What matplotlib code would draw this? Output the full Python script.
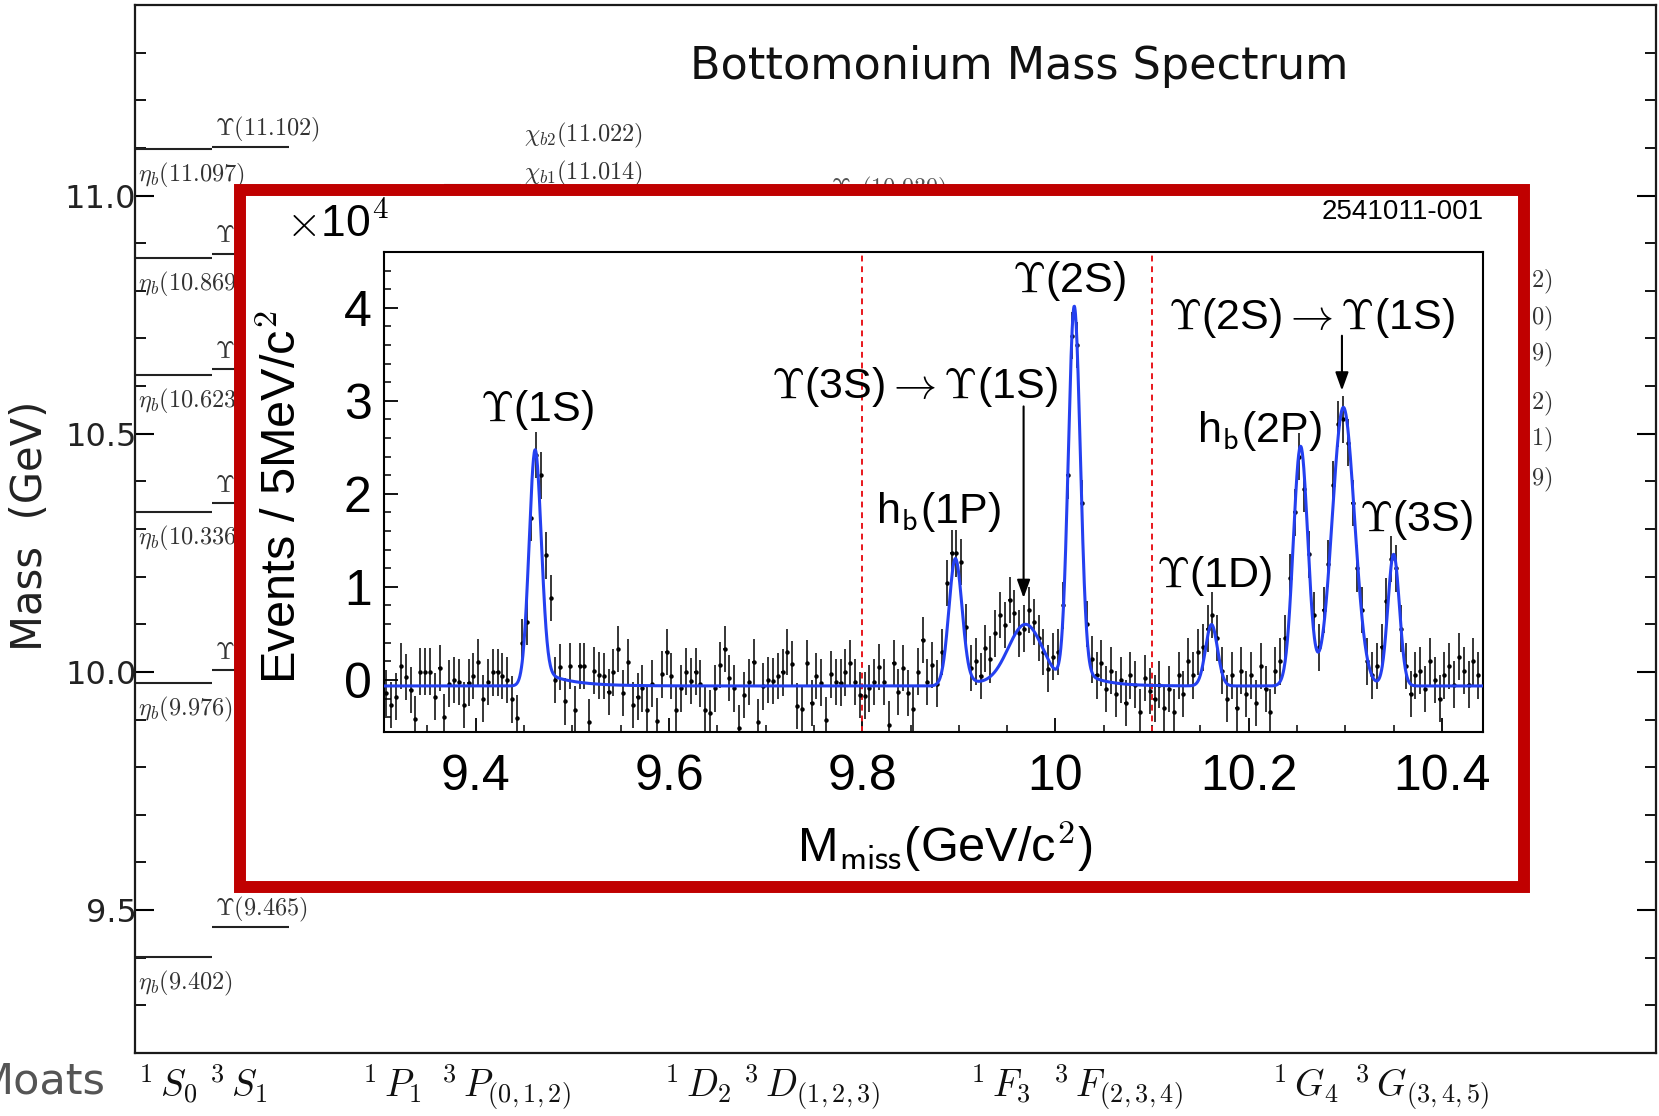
import numpy as np
import matplotlib
matplotlib.use("Agg")
import matplotlib.pyplot as plt
from matplotlib.patches import Rectangle

plt.rcParams["mathtext.fontset"] = "cm"
plt.rcParams["font.family"] = ["Liberation Sans", "DejaVu Sans"]
UI_FONT = ["DejaVu Sans"]

# ---------------- bottomonium level scheme (GeV) ----------------
etab_masses = [9.402, 9.976, 10.336, 10.623, 10.869, 11.097]
upsilon_masses = [9.465, 10.003, 10.354, 10.635, 10.878, 11.102]
chib_names = [r"\chi_{b2}", r"\chi_{b1}"]
chib_masses = [11.022, 11.014]
d_wave_name = r"\Upsilon_1"
d_wave_mass = 10.939
wave_labels = [r"$^1\,S_0$", r"$^3\,S_1$", r"$^1\,P_1$", r"$^3\,P_{(0,1,2)}$",
               r"$^1\,D_2$", r"$^3\,D_{(1,2,3)}$", r"$^1\,F_3$", r"$^3\,F_{(2,3,4)}$",
               r"$^1\,G_4$", r"$^3\,G_{(3,4,5)}$"]
g_wave_label_ends = ["2)", "0)", "9)", "2)", "1)", "9)"]
g_wave_label_heights = [10.819, 10.742, 10.666, 10.563, 10.487, 10.403]

# ---------------- missing-mass spectrum (units of 1e4 events / 5 MeV) ----------------
bin_width = 0.005
first_bin_center = 9.3075
events = np.array([
    -0.14, -0.27, -0.18, 0.15, 0.03, -0.11, -0.42, 0.09, 0.09, 0.09, -0.18, 0.13, -0.40, -0.04,
    0.00, -0.02, -0.27, -0.03, 0.04, 0.19, -0.20, -0.02, 0.08, 0.08, 0.04, 0.00, -0.21, -0.41,
    0.40, 0.62, 1.74, 2.42, 2.20, 1.34, 0.88,
    0.00, 0.14, -0.23, 0.15, -0.32, 0.15, 0.15, -0.45, 0.10, 0.05, 0.04, -0.13, 0.08, 0.33,
    -0.14, 0.19, -0.27, -0.18, -0.09, -0.32, -0.04, -0.44, 0.06, 0.30, 0.04, -0.32, -0.09, 0.09,
    -0.01, 0.09, -0.04, -0.32, -0.36, -0.09, 0.16, 0.33, 0.02, -0.09, -0.52, -0.16, -0.02, 0.19,
    -0.45, -0.07, 0.00, -0.01,
    0.04, 0.08, 0.30, 0.17, -0.28, -0.31, 0.18, -0.25, 0.04, -0.03, -0.43, 0.06, -0.02, -0.03,
    0.08, 0.18, -0.02, -0.16, -0.17, -0.09, -0.02, 0.14, -0.02, -0.48, 0.18, -0.13, 0.13, -0.14,
    -0.31, 0.09,
    0.43, -0.02, 0.16, -0.04, 0.30,
    1.04, 1.36, 1.36, 1.27, 0.57, 0.13, 0.20, 0.04, 0.34, 0.22, 0.50, 0.70, 0.59, 0.86, 0.72,
    0.50, 0.55, 0.75, 0.62, 0.45, 0.30, 0.12, 0.25,
    0.30, 0.80, 2.20, 3.70, 3.60, 1.90, 0.60, 0.22,
    0.05, 0.18, -0.10, 0.10, -0.15, 0.00, -0.25, 0.05, -0.05, -0.35, 0.02, -0.12, -0.20, -0.05,
    -0.30, -0.10, -0.35, 0.05, -0.15, 0.20, 0.05, 0.30, 0.35, 0.55, 0.70, 0.45, 0.10, -0.20,
    0.05, -0.30, 0.10, -0.15, 0.05, -0.25, 0.15, -0.10, -0.35, 0.10, 0.20,
    0.45, 1.10, 1.80, 2.40, 2.05, 1.35, 0.70, 0.35, 0.75, 1.25, 2.10, 2.75, 2.80, 2.55, 1.90,
    1.20, 0.75, 0.20, 0.05, 0.15, 0.35, 0.85, 1.30, 1.20, 0.55, 0.15, -0.15, 0.05, 0.10, -0.10,
    0.20, 0.00, -0.20, 0.05, 0.15, -0.05, 0.25, 0.10, -0.05, 0.20, 0.05,
])
event_error = 0.25

# fit: flat baseline plus one line shape per signal
fit_baseline = -0.065
peak_mass = [9.4615, 9.8965, 9.969, 10.0195, 10.1615, 10.2537, 10.298, 10.350]
peak_height = [2.34, 1.27, 0.66, 3.85, 0.66, 2.575, 2.995, 1.415]
peak_sigma = [0.0063, 0.0068, 0.018, 0.0062, 0.0062, 0.0075, 0.0115, 0.0060]
tail_height = [0.20, 0.10, 0.0, 0.22, 0.0, 0.0, 0.0, 0.0]
tail_length = [0.028, 0.020, 1.0, 0.022, 1.0, 1.0, 1.0, 1.0]

mass_window = (9.305, 10.4425)
count_window = (-0.56, 4.60)

# ---------------- figure ----------------
W, H, DPI = 1659, 1116, 100
fig = plt.figure(figsize=(W / DPI, H / DPI), dpi=DPI)


def fx(px):
    return px / W


def fy(py):
    return 1.0 - py / H


# ---- background: level diagram ----
bg = fig.add_axes([fx(135), fy(1053), fx(1656) - fx(135), fy(5) - fy(1053)], zorder=0)
bg.set_xlim(0, 1)
bg.set_ylim(9.2, 11.4)
for sp in bg.spines.values():
    sp.set_linewidth(1.6)
    sp.set_color("#1a1a1a")
bg.set_xticks([])
bg.yaxis.set_ticks_position("both")
bg.set_yticks([9.5, 10.0, 10.5, 11.0])
bg.set_yticklabels(["9.5", "10.0", "10.5", "11.0"], fontfamily=UI_FONT, fontsize=23, color="#222222")
bg.set_yticks(np.arange(9.3, 11.35, 0.1), minor=True)
bg.tick_params(axis="y", which="major", direction="in", length=14, width=1.5, pad=-1)
bg.tick_params(axis="y", which="minor", direction="in", length=8, width=1.3)

col_w = 77 / 1521
col_x = [(p - 135) / 1521 for p in (135, 212, 365, 444, 667, 746, 973, 1056, 1275, 1357)]
level_color = "#222222"
label_color = "#333333"
lvl_fs = 17.5

for m in etab_masses:
    bg.plot([col_x[0], col_x[0] + col_w], [m, m], color=level_color, lw=1.5, solid_capstyle="butt")
    bg.text(col_x[0] + 0.002, m - 0.055, rf"$\eta_b({m:.3f})$", fontsize=lvl_fs, color=label_color,
            va="center", ha="left")
for m in upsilon_masses:
    bg.plot([col_x[1], col_x[1] + col_w], [m, m], color=level_color, lw=1.5, solid_capstyle="butt")
    bg.text(col_x[1] + 0.002, m + 0.036, rf"$\Upsilon({m:.3f})$", fontsize=lvl_fs, color=label_color,
            va="center", ha="left")
for name, m, ly in zip(chib_names, chib_masses, [11.126, 11.046]):
    bg.plot([col_x[3], col_x[3] + col_w], [m, m], color=level_color, lw=1.5, solid_capstyle="butt")
    bg.text((524 - 135) / 1521, ly, rf"${name}({m:.3f})$", fontsize=lvl_fs, color=label_color,
            va="center", ha="left")
bg.text((831 - 135) / 1521, 11.012, rf"${d_wave_name}({d_wave_mass:.3f})$", fontsize=lvl_fs,
        color="#555555", va="center", ha="left")
for frag, ly in zip(g_wave_label_ends, g_wave_label_heights):
    bg.text((1531 - 135) / 1521, ly, rf"${frag}$", fontsize=lvl_fs, color=label_color,
            va="center", ha="left")
for i, (lab, x) in enumerate(zip(wave_labels, col_x)):
    bg.text(x + (0.002 if i == 0 else -0.002), -0.009, lab, transform=bg.transAxes, fontsize=27,
            va="top", ha="left", color="#111111")

fig.text(fx(1019), fy(79), "Bottomonium Mass Spectrum", fontfamily=UI_FONT, fontsize=32,
         ha="center", va="baseline", color="#111111")
fig.text(fx(30), fy(526), "Mass  (GeV)", fontfamily=UI_FONT, fontsize=30, rotation=90,
         ha="center", va="center", color="#222222")
fig.text(fx(106), fy(1081), "Moats", fontfamily=UI_FONT, fontsize=31, ha="right", va="center",
         color="#555555")

# ---- framed inset: white panel with red border ----
frame = Rectangle((fx(240), fy(887)), fx(1524) - fx(240), fy(190) - fy(887),
                  transform=fig.transFigure, facecolor="white", edgecolor="#c00000",
                  linewidth=8.6, zorder=1)
fig.add_artist(frame)

ax = fig.add_axes([fx(384), fy(732), fx(1483) - fx(384), fy(252) - fy(732)], zorder=2)
ax.set_xlim(*mass_window)
ax.set_ylim(*count_window)
for sp in ax.spines.values():
    sp.set_linewidth(1.5)

centers = first_bin_center + bin_width * np.arange(len(events))
ax.errorbar(centers, events, yerr=event_error, xerr=0.0012, fmt="o", ms=2.2, color="black",
            ecolor="black", elinewidth=1.1, capsize=0, zorder=3)

xf = np.linspace(mass_window[0], mass_window[1], 3000)
yf = np.full_like(xf, fit_baseline)
for mu, a, s, at, tau in zip(peak_mass, peak_height, peak_sigma, tail_height, tail_length):
    core = np.exp(-0.5 * ((xf - mu) / s) ** 2)
    yf += a * core
    if at > 0:
        yf += at * np.where(xf >= mu, np.exp(-np.clip(xf - mu, 0, None) / tau), core)
ax.plot(xf, yf, color="#2440f0", lw=2.2, zorder=4)

for xv in (9.8, 10.1):
    ax.axvline(xv, color="#e8161c", lw=1.4, ls=(0, (3, 2.5)), zorder=2)

ax.set_xticks([9.4, 9.6, 9.8, 10.0, 10.2, 10.4])
ax.set_xticklabels(["9.4", "9.6", "9.8", "10", "10.2", "10.4"])
ax.set_xticks(np.arange(9.35, 10.44, 0.05), minor=True)
ax.set_yticks([0, 1, 2, 3, 4])
ax.set_yticks(np.arange(-0.4, 4.6, 0.2), minor=True)
ax.tick_params(which="both", direction="in", top=False, right=False)
ax.tick_params(which="major", length=10, width=1.3, labelsize=36)
ax.tick_params(which="minor", length=5, width=1.1)
ax.tick_params(axis="x", pad=16)
ax.tick_params(axis="y", pad=9)

lab_kw = dict(fontsize=31, ha="center", va="baseline", zorder=5)
ax.text(9.4637, 2.785, r"$\Upsilon$(1S)", **lab_kw)
ax.text(9.8545, 3.03, r"$\Upsilon$(3S)$\rightarrow\Upsilon$(1S)", **lab_kw)
ax.text(9.8788, 1.69, r"h$_{\mathsf{b}}$(1P)", **lab_kw)
ax.text(10.0135, 4.17, r"$\Upsilon$(2S)", **lab_kw)
ax.text(10.2654, 3.77, r"$\Upsilon$(2S)$\rightarrow\Upsilon$(1S)", **lab_kw)
ax.text(10.2106, 2.56, r"h$_{\mathsf{b}}$(2P)", **lab_kw)
ax.text(10.3727, 1.60, r"$\Upsilon$(3S)", **lab_kw)
ax.text(10.1646, 1.00, r"$\Upsilon$(1D)", **lab_kw)

arrow_kw = dict(arrowstyle="-|>,head_length=0.5,head_width=0.18", color="black", lw=1.5,
                mutation_scale=22, shrinkA=0, shrinkB=0)
ax.annotate("", xy=(9.967, 0.88), xytext=(9.967, 2.94), arrowprops=arrow_kw, zorder=5)
ax.annotate("", xy=(10.2965, 3.11), xytext=(10.2965, 3.70), arrowprops=arrow_kw, zorder=5)

fig.text(fx(283), fy(497), r"Events / 5MeV/c$^{\mathsf{2}}$", fontsize=35, rotation=90,
         ha="center", va="center", zorder=5)
fig.text(fx(945), fy(846), r"M$_{\mathsf{miss}}$(GeV/c$^{\mathsf{2}}$)", fontsize=35,
         ha="center", va="center", zorder=5)
fig.text(fx(286), fy(225), r"$\times$10$^{\mathsf{4}}$", fontsize=32, ha="left", va="center",
         zorder=5)
fig.text(fx(1484), fy(212), "2541011-001", fontsize=20, ha="right", va="center", zorder=5)

fig.savefig("out.png", dpi=DPI)
